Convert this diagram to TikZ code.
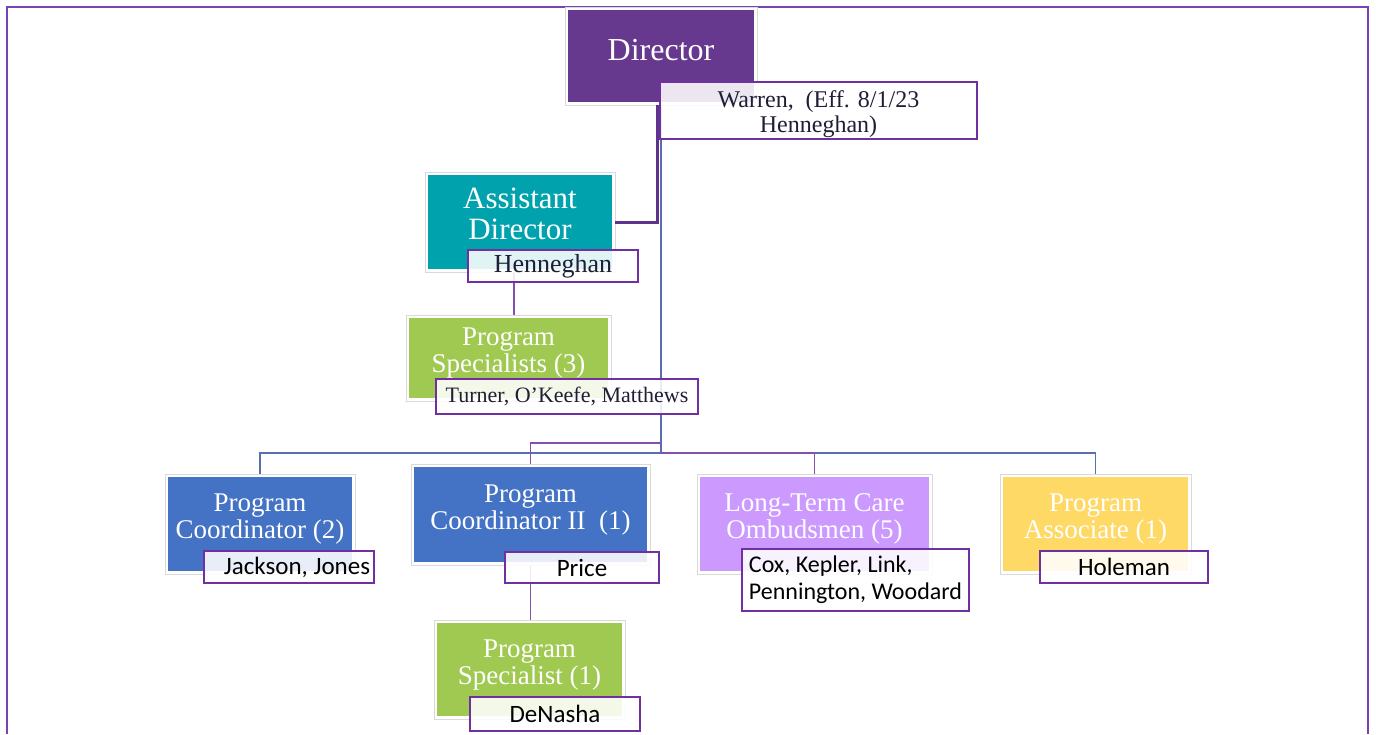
\documentclass[tikz,border=0pt]{standalone}
\usepackage{fontspec}
\setmainfont{Liberation Serif}
\newfontfamily\calfont{Carlito}
\usetikzlibrary{positioning,backgrounds}

\definecolor{framepurple}{RGB}{120,68,180}
\definecolor{dirpurple}{RGB}{102,56,142}
\definecolor{asstteal}{RGB}{0,163,173}
\definecolor{specgreen}{RGB}{160,201,82}
\definecolor{coordblue}{RGB}{68,114,196}
\definecolor{ombudlav}{RGB}{204,153,255}
\definecolor{assocyellow}{RGB}{255,217,102}
\definecolor{namepurple}{RGB}{112,48,160}
\definecolor{busblue}{RGB}{88,110,175}
\definecolor{bosspurple}{RGB}{92,52,140}
\definecolor{namenavy}{RGB}{30,30,55}

\begin{document}
\begin{tikzpicture}[
  x=0.5pt, y=-0.5pt,
  role/.style={draw=black!15, line width=0.4pt, fill=white, outer sep=0pt, inner sep=0pt,
    text=white, align=center,
    path picture={\fill[#1] ([shift={(1.5pt,1.5pt)}]path picture bounding box.south west)
      rectangle ([shift={(-1.5pt,-1.5pt)}]path picture bounding box.north east);}},
  namebox/.style={draw=namepurple, line width=0.8pt, fill=white, fill opacity=0.88, text opacity=1,
    text=namenavy, outer sep=0pt, inner sep=0pt, align=center},
  calname/.style={namebox, text=black, font=\calfont\fontsize{12.5}{13.5}\selectfont},
  rolefont/.style={font=\fontsize{13.5}{13.5}\selectfont, text depth=7.5pt},
  busline/.style={draw=busblue, line width=0.9pt},
  link/.style={draw=namepurple!85, line width=0.9pt},
  bossline/.style={draw=bosspurple, line width=1.5pt},
  outerframe/.style={draw=framepurple, line width=1.2pt}
]
\useasboundingbox (0,0) rectangle (1376,734);
% outer frame
\draw[outerframe] (7,734) -- (7,7) -- (1368,7) -- (1368,734);

% role boxes
\node[role=dirpurple, minimum width=96pt, minimum height=49pt,
      font=\fontsize{16}{16}\selectfont, text depth=6pt] (dir) at (661,56) {Director};
\node[role=asstteal, minimum width=95pt, minimum height=50pt,
      font=\fontsize{15.5}{15.5}\selectfont, text depth=8pt] (asst) at (520,222) {Assistant\\Director};
\node[role=specgreen, rolefont, minimum width=102.5pt, minimum height=43pt] (ps3) at (508.5,358) {Program\\Specialists (3)};
\node[role=coordblue, rolefont, minimum width=95pt, minimum height=50pt] (pc) at (260,524) {Program\\Coordinator (2)};
\node[role=coordblue, rolefont, minimum width=119.5pt, minimum height=50.5pt] (pc2) at (530.5,514.5) {Program\\Coordinator II~~(1)};
\node[role=ombudlav, rolefont, minimum width=117.5pt, minimum height=50pt] (ltc) at (814.5,524) {Long-Term Care\\Ombudsmen (5)};
\node[role=assocyellow, rolefont, minimum width=95.5pt, minimum height=50pt] (pa) at (1095.5,524) {Program\\Associate (1)};
\node[role=specgreen, rolefont, minimum width=95.5pt, minimum height=49.5pt] (ps1) at (529.5,669.5) {Program\\Specialist (1)};

% connectors
\begin{scope}[on background layer]
\coordinate (bus) at (661,453);
\coordinate (jn) at (661,443);
\draw[busline] (dir.south) -- (bus);
\draw[busline] (pc.north) |- (bus);
\draw[busline] (bus) -| (pa.north);
\draw[link] (bus) -| (ltc.north);
\draw[link] (jn) -| (pc2.north);
\draw[link] ([xshift=-3pt]asst.south) -- ([xshift=-3pt]asst.south |- ps3.north);
\draw[link] (pc2.south) -- (pc2.south |- ps1.north);
\end{scope}
\draw[bossline] ([xshift=-2pt]dir.south) |- (asst.east);

% name boxes
\node[namebox, minimum width=158.5pt, minimum height=28.5pt, text height=25pt,
      font=\fontsize{12}{12.5}\selectfont] (warren) at (818.5,110.5) {Warren,~~(Eff. 8/1/23\\Henneghan)};
\node[namebox, minimum width=85pt, minimum height=16pt,
      font=\fontsize{13}{13}\selectfont] (henn) at (553,266) {Henneghan};
\node[namebox, minimum width=131pt, minimum height=17.5pt,
      font=\fontsize{11}{11}\selectfont] (turner) at (567,396.5) {Turner, O’Keefe, Matthews};
\node[calname, minimum width=85pt, minimum height=16pt] (jackson) at (289,567) {\hspace{8pt}Jackson, Jones};
\node[calname, minimum width=77pt, minimum height=15.5pt] (price) at (582,567.5) {Price};
\node[calname, minimum width=113.5pt, minimum height=31pt, align=left,
      font=\calfont\fontsize{12}{13.5}\selectfont] (cox) at (855.5,580) {Cox, Kepler, Link,\\Pennington, Woodard};
\node[calname, minimum width=84pt, minimum height=16pt] (holeman) at (1124,567) {Holeman};
\node[calname, minimum width=85pt, minimum height=17pt] (denasha) at (555,714) {DeNasha};
\end{tikzpicture}
\end{document}
